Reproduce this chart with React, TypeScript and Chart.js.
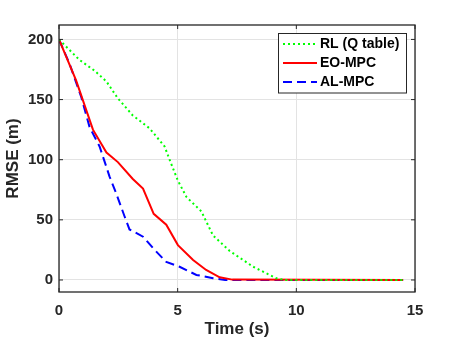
import React, { useEffect, useRef } from "react";
import { Chart, registerables } from "chart.js";

Chart.register(...registerables);

const xTicks = [0, 5, 10, 15];
const yTicks = [0, 50, 100, 150, 200];

const rlTime = [0, 0.86, 1.5, 2.0, 2.48, 3.1, 3.82, 4.45, 4.66, 5.0, 5.37, 6.0, 6.49, 7.2, 8.18, 9.16, 9.5, 14.5];
const rlValues = [200, 183, 174, 165, 151, 137, 126, 111, 100, 83, 69, 57, 37, 24, 11, 1.4, 0, 0];

const eoTime = [0, 0.72, 1.43, 2.0, 2.48, 3.11, 3.54, 3.99, 4.52, 5.01, 5.65, 6.2, 6.77, 7.3, 14.5];
const eoValues = [200, 166, 125, 106, 98, 84, 76, 55, 46, 29, 16.6, 8.3, 2.2, 0.3, 0];

const alTime = [0, 0.44, 0.94, 1.29, 1.71, 2.13, 2.41, 2.76, 2.97, 3.54, 4.03, 4.52, 5.08, 5.79, 6.49, 7.0, 14.5];
const alValues = [200, 180, 152, 127, 111, 86, 72, 53, 42, 36, 25, 15, 11, 4.2, 1.4, 0, 0];

const seriesNames = ["RL (Q table)", "EO-MPC", "AL-MPC"];
const seriesColors = ["#00ff00", "#ff0000", "#0000ff"];
const seriesDash: number[][] = [[2, 3], [], [9, 5]];

const toXY = (t: number[], v: number[]) => t.map((x, i) => ({ x, y: v[i] }));

const AXIS = "#262626";
const FONT = "'Liberation Sans', Arial, Helvetica, sans-serif";

const boxPlugin = {
  id: "matlabBox",
  afterDraw(chart: any) {
    const { ctx, chartArea: a, scales } = chart;
    ctx.save();
    ctx.strokeStyle = AXIS;
    ctx.lineWidth = 1.3;
    ctx.strokeRect(a.left, a.top, a.right - a.left, a.bottom - a.top);
    ctx.lineWidth = 1;
    const tl = 4;
    ctx.beginPath();
    for (const v of xTicks) {
      const px = scales.x.getPixelForValue(v);
      ctx.moveTo(px, a.bottom);
      ctx.lineTo(px, a.bottom - tl);
      ctx.moveTo(px, a.top);
      ctx.lineTo(px, a.top + tl);
    }
    for (const v of yTicks) {
      const py = scales.y.getPixelForValue(v);
      ctx.moveTo(a.left, py);
      ctx.lineTo(a.left + tl, py);
      ctx.moveTo(a.right, py);
      ctx.lineTo(a.right - tl, py);
    }
    ctx.stroke();

    // legend
    const lx = 278.5, ly = 33.5, lw = 128, lh = 59.5;
    ctx.fillStyle = "#ffffff";
    ctx.fillRect(lx, ly, lw, lh);
    ctx.strokeStyle = AXIS;
    ctx.lineWidth = 1;
    ctx.strokeRect(lx, ly, lw, lh);
    const rows = [44, 63, 82];
    ctx.font = `bold 14px ${FONT}`;
    ctx.textBaseline = "middle";
    ctx.textAlign = "left";
    seriesNames.forEach((name, i) => {
      ctx.beginPath();
      ctx.strokeStyle = seriesColors[i];
      ctx.lineWidth = 2;
      ctx.setLineDash(seriesDash[i]);
      ctx.moveTo(283, rows[i]);
      ctx.lineTo(317, rows[i]);
      ctx.stroke();
      ctx.setLineDash([]);
      ctx.fillStyle = "#000000";
      ctx.fillText(name, 320, rows[i] + 0.5);
    });
    ctx.restore();
  },
};

export default function App() {
  const ref = useRef<HTMLCanvasElement | null>(null);
  useEffect(() => {
    if (!ref.current) return;
    const chart = new Chart(ref.current, {
      type: "line",
      data: {
        datasets: [
          { label: seriesNames[0], data: toXY(rlTime, rlValues), borderColor: seriesColors[0], borderWidth: 2, borderDash: seriesDash[0], pointRadius: 0, tension: 0, fill: false },
          { label: seriesNames[1], data: toXY(eoTime, eoValues), borderColor: seriesColors[1], borderWidth: 2, borderDash: seriesDash[1], pointRadius: 0, tension: 0, fill: false },
          { label: seriesNames[2], data: toXY(alTime, alValues), borderColor: seriesColors[2], borderWidth: 2, borderDash: seriesDash[2], pointRadius: 0, tension: 0, fill: false },
        ],
      },
      options: {
        animation: false,
        responsive: false,
        devicePixelRatio: 1,
        layout: { padding: { top: 25, right: 43, bottom: 0, left: 0 } },
        plugins: { legend: { display: false }, tooltip: { enabled: false } },
        scales: {
          x: {
            type: "linear",
            min: 0,
            max: 15,
            afterBuildTicks: (s: any) => { s.ticks = xTicks.map((v) => ({ value: v })); },
            afterFit: (s: any) => { s.height = 51; },
            grid: { color: "#e3e3e3", lineWidth: 1, drawTicks: false },
            border: { display: false },
            ticks: { padding: 10, color: AXIS, font: { family: FONT, size: 15, weight: "bold" }, maxRotation: 0 },
            title: { display: true, text: "Time (s)", color: AXIS, font: { family: FONT, size: 17, weight: "bold" }, padding: { top: 0, bottom: 3 } },
          },
          y: {
            type: "linear",
            min: -10,
            max: 212,
            afterBuildTicks: (s: any) => { s.ticks = yTicks.map((v) => ({ value: v })); },
            afterFit: (s: any) => { s.width = 59; },
            grid: { color: "#e3e3e3", lineWidth: 1, drawTicks: false },
            border: { display: false },
            ticks: { padding: 6, color: AXIS, font: { family: FONT, size: 15, weight: "bold" } },
            title: { display: true, text: "RMSE (m)", color: AXIS, font: { family: FONT, size: 17, weight: "bold" }, padding: { top: 3, bottom: 0 } },
          },
        },
      },
      plugins: [boxPlugin],
    } as any);
    return () => chart.destroy();
  }, []);
  return (
    <div style={{ position: "fixed", left: 0, top: 0, width: 458, height: 343, background: "#fff" }}>
      <canvas ref={ref} width={458} height={343} style={{ width: 458, height: 343, display: "block" }} />
    </div>
  );
}
